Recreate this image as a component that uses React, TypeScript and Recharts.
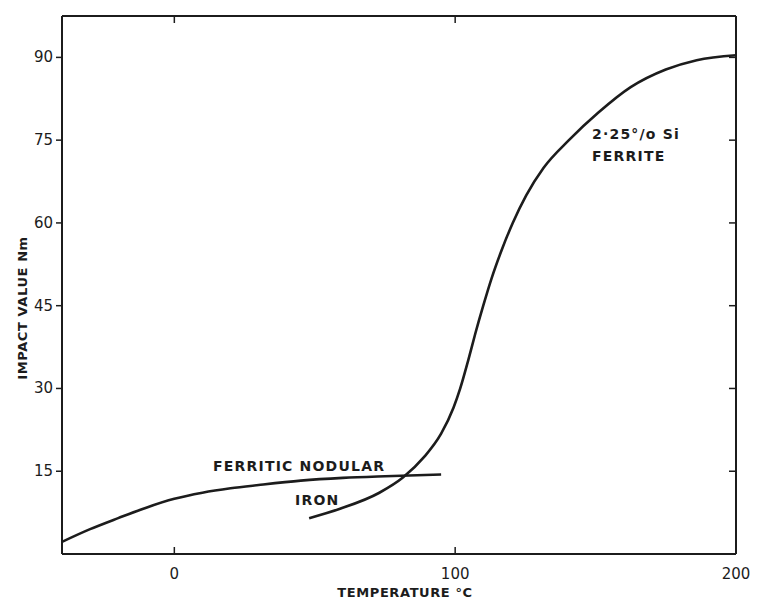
import { Line, LineChart, XAxis, YAxis } from 'recharts'

const INK = '#1c1c1c'
const FONT = '"DejaVu Sans", sans-serif'

// temperature ticks (°C) and impact ticks (Nm)
const TEMP_TICKS = [0, 100, 200]
const IMPACT_TICKS = [15, 30, 45, 60, 75, 90]

// ferritic nodular iron
const ironTemp = [-40, -30, -20, -10, 0, 10, 20, 30, 45, 60, 75, 95]
const ironImpact = [2.2, 4.5, 6.5, 8.4, 10.0, 11.1, 11.9, 12.5, 13.3, 13.8, 14.1, 14.4]

// 2.25% Si ferrite
const siTemp = [48, 59, 73, 81.5, 88.8, 95, 99.4, 101.8, 104.6, 107.2, 110, 113, 116.5, 120.5, 125.3, 131.5, 140.5, 151, 162.5, 175, 186, 200]
const siImpact = [6.5, 8.2, 11.1, 13.9, 17.5, 21.8, 26.5, 30, 35, 40, 45, 50, 55, 60, 65, 70, 75, 80, 84.6, 87.8, 89.5, 90.4]

const ironData = ironTemp.map((t, i) => ({ t, v: ironImpact[i] }))
const siData = siTemp.map((t, i) => ({ t, v: siImpact[i] }))

type TickProps = { x?: number; y?: number; payload?: { value: number } }

function BottomTick({ x = 0, y = 0, payload }: TickProps) {
  return (
    <g>
      <line x1={x} x2={x} y1={y} y2={y - 7} stroke={INK} strokeWidth={1.5} />
      <text x={x} y={y + 25} textAnchor="middle" fontFamily={FONT} fontSize={15} fill={INK}>
        {payload?.value}
      </text>
    </g>
  )
}

function TopTick({ x = 0, y = 0 }: TickProps) {
  return <line x1={x} x2={x} y1={y} y2={y + 7} stroke={INK} strokeWidth={1.5} />
}

function LeftTick({ x = 0, y = 0, payload }: TickProps) {
  return (
    <g>
      <line x1={x} x2={x - 6} y1={y} y2={y} stroke={INK} strokeWidth={1.5} />
      <text x={x - 9} y={y + 5} textAnchor="end" fontFamily={FONT} fontSize={15} fill={INK}>
        {payload?.value}
      </text>
    </g>
  )
}

function RightTick({ x = 0, y = 0 }: TickProps) {
  return <line x1={x} x2={x - 7} y1={y} y2={y} stroke={INK} strokeWidth={1.5} />
}

const labelStyle = { fontFamily: FONT, fontSize: 14, fontWeight: 700, fill: INK, letterSpacing: 1.2 }
const titleStyle = { fontFamily: FONT, fontSize: 13, fontWeight: 700, fill: INK, letterSpacing: 0.6 }

export default function App() {
  return (
    <div style={{ position: 'absolute', left: 0, top: 0, width: 759, height: 608, background: '#fff' }}>
      <LineChart width={759} height={608} margin={{ top: 0, right: 0, left: 0, bottom: 0 }}>
        <XAxis
          dataKey="t"
          type="number"
          domain={[-40, 200]}
          ticks={TEMP_TICKS}
          height={54}
          tickSize={0}
          tickMargin={0}
          tickLine={false}
          axisLine={{ stroke: INK, strokeWidth: 2 }}
          tick={<BottomTick />}
          allowDataOverflow
        />
        <XAxis
          xAxisId="top"
          dataKey="t"
          orientation="top"
          type="number"
          domain={[-40, 200]}
          ticks={TEMP_TICKS}
          height={16}
          tickSize={0}
          tickMargin={0}
          tickLine={false}
          axisLine={{ stroke: INK, strokeWidth: 2 }}
          tick={<TopTick />}
          allowDataOverflow
        />
        <YAxis
          type="number"
          domain={[0, 97.5]}
          ticks={IMPACT_TICKS}
          width={62}
          tickSize={0}
          tickMargin={0}
          tickLine={false}
          axisLine={{ stroke: INK, strokeWidth: 2 }}
          tick={<LeftTick />}
          allowDataOverflow
        />
        <YAxis
          yAxisId="right"
          orientation="right"
          type="number"
          domain={[0, 97.5]}
          ticks={IMPACT_TICKS}
          width={23}
          tickSize={0}
          tickMargin={0}
          tickLine={false}
          axisLine={{ stroke: INK, strokeWidth: 2 }}
          tick={<RightTick />}
          allowDataOverflow
        />
        <Line data={ironData} dataKey="v" type="monotone" stroke={INK} strokeWidth={2.6} dot={false} isAnimationActive={false} />
        <Line
          data={siData}
          dataKey="v"
          xAxisId="top"
          yAxisId="right"
          type="monotone"
          stroke={INK}
          strokeWidth={2.6}
          dot={false}
          isAnimationActive={false}
        />
      </LineChart>

      <svg width={759} height={608} style={{ position: 'absolute', left: 0, top: 0, pointerEvents: 'none' }}>
        <text x={592} y={139} {...labelStyle}>2·25°/o Si</text>
        <text x={592} y={161} {...labelStyle}>FERRITE</text>
        <text x={213} y={471} {...labelStyle}>FERRITIC NODULAR</text>
        <text x={295} y={505} {...labelStyle}>IRON</text>
        <text x={405} y={597} textAnchor="middle" {...titleStyle}>TEMPERATURE °C</text>
        <text x={27} y={308} textAnchor="middle" transform="rotate(-90 27 308)" {...titleStyle}>
          IMPACT VALUE Nm
        </text>
      </svg>
    </div>
  )
}
